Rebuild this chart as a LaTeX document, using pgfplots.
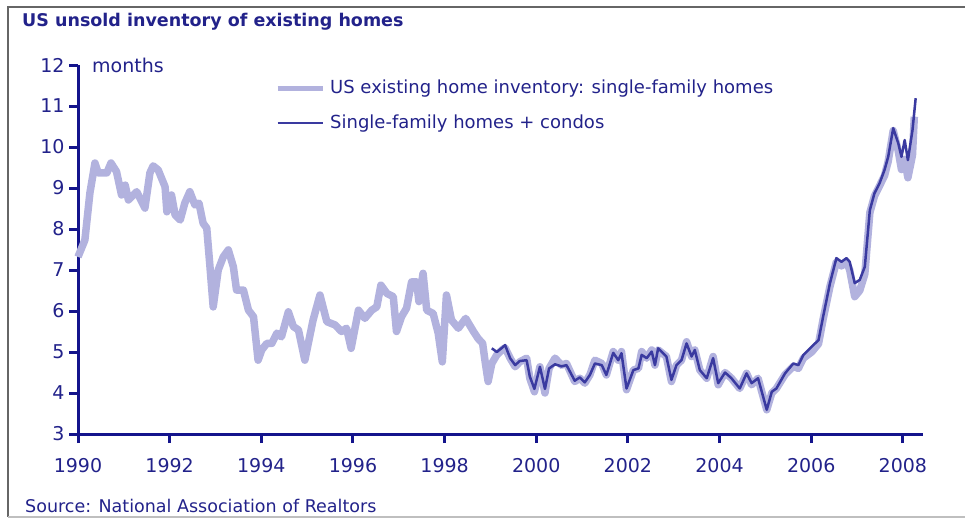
\documentclass[border=0pt]{standalone}
\usepackage{fontspec}
\setmainfont{DejaVu Sans}
\usepackage{pgfplots}
\pgfplotsset{compat=1.18}
\definecolor{navy}{HTML}{14148C}
\definecolor{txt}{HTML}{22228A}
\definecolor{lav}{HTML}{B2B2DE}
\definecolor{dk}{HTML}{3A3AA0}
\begin{document}
\begin{tikzpicture}[x=1pt,y=1pt]
\useasboundingbox (0,0) rectangle (965,519);
\draw[gray!80!black, line width=1.5pt] (965,512) -- (8,512) -- (8,2);
\draw[gray!50, line width=1.5pt] (8,2) -- (965,2);
\node[anchor=west, text=txt, font=\fontsize{17.5}{20}\selectfont\bfseries, inner sep=0pt] at (22,497) {US unsold inventory of existing homes};
\node[anchor=west, text=txt, font=\fontsize{17.5}{20}\selectfont, inner sep=0pt] at (25,13) {Source: National Association of Realtors};
\begin{axis}[
  at={(78pt,85pt)}, anchor=south west,
  scale only axis, width=845pt, height=369pt,
  xmin=1990, xmax=2008.44, ymin=3, ymax=12,
  axis lines*=left,
  axis line style={navy, line width=3pt},
  tick style={draw=navy, line width=3pt},
  tick align=outside, major tick length=9pt,
  xtick={1990,1992,...,2008}, ytick={3,4,...,12},
  /pgf/number format/assume math mode=true,
  /pgf/number format/1000 sep={},
  ticklabel style={font=\fontsize{19}{22}\selectfont, text=txt},
  xticklabel style={yshift=-12pt},
  yticklabel style={xshift=-1pt},
  clip=false,
  legend cell align=left,
  legend style={draw=none, fill=none, inner sep=0pt, at={(0.2331,0.89)}, anchor=west,
    font=\fontsize{18}{21}\selectfont, text=txt, row sep=17pt, column sep=5pt,
    nodes={inner sep=0pt, text height=14pt, text depth=4pt}},
  legend image code/.code={\draw[#1] (0pt,0pt) -- (45pt,0pt);},
]
\pgfplotsinvokeforeach{3,4,5,6,7,8,9,10,11,12}{\draw[navy, line width=3pt] (axis cs:1990,#1) -- ++(-9pt,0pt);}
\pgfplotsinvokeforeach{1990,1992,1994,1996,1998,2000,2002,2004,2006,2008}{\draw[navy, line width=3pt] (axis cs:#1,3) -- ++(0pt,-9pt);}
\node[anchor=west, text=txt, font=\fontsize{19}{22}\selectfont, inner sep=0pt] at (axis description cs:0.0166,1.0) {months};
\addplot[lav, line width=7.5pt, line join=round, forget plot] coordinates {
(1990.00,7.32) (1990.15,7.73) (1990.26,8.88) (1990.37,9.61) (1990.44,9.37) (1990.63,9.37)
(1990.72,9.61) (1990.84,9.40) (1990.95,8.83) (1991.03,9.07) (1991.10,8.71) (1991.28,8.91)
(1991.35,8.76) (1991.46,8.51) (1991.57,9.37) (1991.64,9.54) (1991.75,9.44) (1991.90,9.03)
(1991.94,8.42) (1992.04,8.83) (1992.12,8.34) (1992.23,8.22) (1992.33,8.63) (1992.44,8.91)
(1992.55,8.59) (1992.64,8.63) (1992.73,8.14) (1992.81,8.02) (1992.88,7.08) (1992.95,6.10)
(1993.06,7.00) (1993.17,7.32) (1993.28,7.49) (1993.39,7.08) (1993.46,6.51) (1993.61,6.51)
(1993.72,6.02) (1993.83,5.86) (1993.93,4.80) (1994.01,5.05) (1994.12,5.21) (1994.23,5.21)
(1994.34,5.46) (1994.44,5.37) (1994.59,5.98) (1994.70,5.62) (1994.81,5.54) (1994.95,4.80)
(1995.13,5.78) (1995.28,6.39) (1995.43,5.74) (1995.61,5.66) (1995.75,5.50) (1995.86,5.58)
(1995.96,5.09) (1996.12,6.02) (1996.26,5.82) (1996.41,6.02) (1996.52,6.10) (1996.61,6.63)
(1996.74,6.43) (1996.88,6.35) (1996.95,5.50) (1997.06,5.86) (1997.17,6.07) (1997.28,6.71)
(1997.39,6.71) (1997.44,6.23) (1997.53,6.92) (1997.61,6.02) (1997.75,5.94) (1997.86,5.46)
(1997.95,4.76) (1998.04,6.39) (1998.15,5.78) (1998.30,5.58) (1998.46,5.82) (1998.63,5.50)
(1998.73,5.33) (1998.83,5.21) (1998.88,4.80) (1998.95,4.28) (1999.03,4.72) (1999.14,4.93)
(1999.25,5.05) (1999.32,5.10) (1999.43,4.85) (1999.54,4.64) (1999.64,4.76) (1999.79,4.85)
(1999.86,4.36) (1999.96,4.03) (2000.08,4.64) (2000.19,4.00) (2000.28,4.60) (2000.41,4.85)
(2000.55,4.68) (2000.66,4.72) (2000.84,4.28) (2000.95,4.36) (2001.06,4.24) (2001.17,4.44)
(2001.28,4.80) (2001.43,4.72) (2001.53,4.44) (2001.68,5.01) (2001.79,4.80) (2001.86,5.01)
(2001.97,4.08) (2002.12,4.56) (2002.23,4.60) (2002.30,5.01) (2002.41,4.85) (2002.52,5.05)
(2002.59,4.68) (2002.66,5.05) (2002.84,4.89) (2002.95,4.28) (2003.06,4.68) (2003.17,4.80)
(2003.28,5.25) (2003.39,4.89) (2003.46,5.05) (2003.57,4.56) (2003.72,4.36) (2003.86,4.89)
(2003.97,4.20) (2004.12,4.50) (2004.26,4.36) (2004.44,4.11) (2004.59,4.48) (2004.70,4.20)
(2004.84,4.36) (2005.03,3.59) (2005.14,4.00) (2005.24,4.11) (2005.43,4.45) (2005.61,4.65)
(2005.72,4.60) (2005.83,4.85) (2006.01,5.00) (2006.16,5.20) (2006.26,5.80) (2006.41,6.60)
(2006.55,7.20) (2006.66,7.10) (2006.77,7.20) (2006.84,7.00) (2006.95,6.35) (2007.06,6.50)
(2007.17,6.90) (2007.28,8.40) (2007.38,8.80) (2007.49,9.05) (2007.60,9.30) (2007.68,9.65)
(2007.79,10.40) (2007.90,9.90) (2007.97,9.45) (2008.04,9.70) (2008.11,9.25) (2008.21,9.80)
(2008.25,10.74)
};
\addplot[dk, line width=2.5pt, line join=round, forget plot] coordinates {
(1999.03,5.09) (1999.14,5.00) (1999.25,5.10) (1999.32,5.17) (1999.43,4.85) (1999.54,4.68)
(1999.64,4.78) (1999.79,4.80) (1999.86,4.40) (1999.96,4.10) (2000.08,4.64) (2000.19,4.10)
(2000.28,4.60) (2000.41,4.70) (2000.55,4.65) (2000.66,4.68) (2000.84,4.30) (2000.95,4.38)
(2001.06,4.26) (2001.17,4.44) (2001.28,4.72) (2001.43,4.68) (2001.53,4.44) (2001.68,4.98)
(2001.79,4.80) (2001.86,4.97) (2001.97,4.11) (2002.12,4.56) (2002.23,4.60) (2002.30,4.93)
(2002.41,4.85) (2002.52,5.01) (2002.59,4.68) (2002.66,5.09) (2002.84,4.89) (2002.95,4.32)
(2003.06,4.68) (2003.17,4.80) (2003.28,5.21) (2003.39,4.89) (2003.46,5.05) (2003.57,4.56)
(2003.72,4.36) (2003.86,4.85) (2003.97,4.24) (2004.12,4.50) (2004.26,4.36) (2004.44,4.11)
(2004.59,4.48) (2004.70,4.24) (2004.84,4.36) (2005.03,3.59) (2005.14,4.03) (2005.24,4.11)
(2005.43,4.48) (2005.61,4.72) (2005.72,4.68) (2005.83,4.93) (2006.01,5.13) (2006.16,5.29)
(2006.26,5.86) (2006.41,6.68) (2006.55,7.29) (2006.66,7.20) (2006.77,7.29) (2006.84,7.20)
(2006.95,6.68) (2007.06,6.76) (2007.17,7.08) (2007.28,8.46) (2007.38,8.87) (2007.49,9.11)
(2007.60,9.44) (2007.68,9.76) (2007.79,10.46) (2007.90,10.09) (2007.97,9.76) (2008.04,10.17)
(2008.11,9.68) (2008.21,10.41) (2008.28,11.19)
};
\addlegendimage{lav, line width=5pt}
\addlegendentry{US existing home inventory: single-family homes}
\addlegendimage{dk, line width=2.5pt}
\addlegendentry{Single-family homes + condos}
\end{axis}
\end{tikzpicture}
\end{document}
